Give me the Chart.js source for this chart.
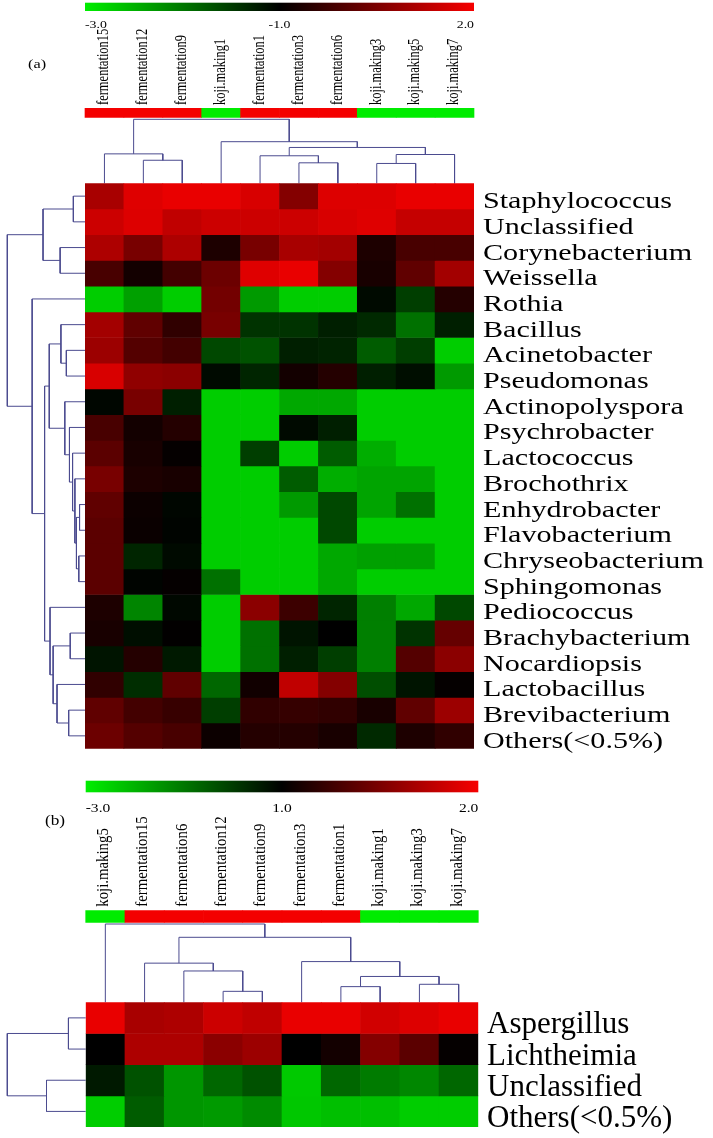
<!DOCTYPE html>
<html>
<head>
<meta charset="utf-8">
<script src="https://cdn.jsdelivr.net/npm/chart.js@4.4.1/dist/chart.umd.min.js"></script>
<style>
  html, body { margin: 0; padding: 0; background: #fff; }
  #page { position: relative; width: 713px; height: 1138px; }
  canvas { position: absolute; left: 0; }
</style>
</head>
<body>
<div id="page">
  <canvas id="chart-a" width="713" height="760" style="top:0;width:713px;height:760px"></canvas>
  <canvas id="chart-b" width="713" height="378" style="top:760px;width:713px;height:378px"></canvas>
</div>
<script>
// ---- panel (a) : bacteria ----
const colLabelsA = ['fermentation15', 'fermentation12', 'fermentation9', 'koji.making1', 'fermentation1',
    'fermentation3', 'fermentation6', 'koji.making3', 'koji.making5', 'koji.making7'];
const colGroupsA = ['fermentation', 'fermentation', 'fermentation', 'koji', 'fermentation',
    'fermentation', 'fermentation', 'koji', 'koji', 'koji'];
const rowLabelsA = ['Staphylococcus', 'Unclassified', 'Corynebacterium', 'Weissella', 'Rothia', 'Bacillus',
    'Acinetobacter', 'Pseudomonas', 'Actinopolyspora', 'Psychrobacter', 'Lactococcus', 'Brochothrix',
    'Enhydrobacter', 'Flavobacterium', 'Chryseobacterium', 'Sphingomonas', 'Pediococcus',
    'Brachybacterium', 'Nocardiopsis', 'Lactobacillus', 'Brevibacterium', 'Others(<0.5%)'];
const valuesA = [
    [1.1, 1.79, 1.91, 1.91, 1.7, 0.65, 1.76, 1.76, 1.91, 1.91],
    [1.55, 1.76, 1.4, 1.55, 1.55, 1.55, 1.7, 1.79, 1.46, 1.46],
    [1.16, 0.5, 1.16, -0.64, 0.5, 1.1, 1.04, -0.64, -0.1, -0.1],
    [-0.1, -0.76, -0.16, 0.35, 1.79, 1.91, 0.65, -0.7, 0.2, 1.04],
    [-3, -2.56, -3, 0.44, -2.5, -3, -3, -1.1, -1.6, -0.55],
    [1.04, 0.2, -0.4, 0.5, -1.5, -1.5, -1.3, -1.4, -2.1, -1.3],
    [0.95, 0.05, -0.16, -1.7, -1.8, -1.3, -1.34, -1.9, -1.6, -3],
    [1.7, 0.8, 0.74, -1.1, -1.36, -0.76, -0.55, -1.3, -1.14, -2.5],
    [-1.06, 0.5, -1.3, -3, -3, -2.64, -2.64, -3, -3, -3],
    [-0.1, -0.76, -0.55, -3, -3, -1.1, -1.3, -3, -3, -3],
    [0.14, -0.7, -0.94, -3, -1.6, -3, -1.9, -2.7, -3, -3],
    [0.5, -0.64, -0.7, -3, -3, -1.9, -2.7, -2.6, -2.6, -3],
    [0.2, -0.85, -1.06, -3, -3, -2.5, -1.7, -2.6, -2.1, -3],
    [0.14, -0.88, -1.04, -3, -3, -3, -1.7, -3, -3, -3],
    [0.14, -1.36, -1.1, -3, -3, -3, -2.64, -2.56, -2.56, -3],
    [0.14, -1.04, -0.94, -2.1, -3, -3, -2.64, -3, -3, -3],
    [-0.64, -2.3, -1.08, -3, 0.74, -0.25, -1.36, -2.24, -2.64, -1.7],
    [-0.7, -1.14, -0.97, -3, -2.1, -1.2, -1, -2.24, -1.5, 0.26],
    [-1.2, -0.55, -1.24, -3, -2.1, -1.3, -1.6, -2.24, 0.05, 0.74],
    [-0.4, -1.44, 0.2, -2, -0.79, 1.4, 0.65, -1.76, -1.2, -0.94],
    [0.2, -0.16, -0.31, -1.6, -0.4, -0.34, -0.4, -0.7, 0.2, 0.95],
    [0.35, 0.05, -0.1, -0.85, -0.55, -0.55, -0.7, -1.4, -0.64, -0.4]
];
const colorTicksA = ['-3.0', '-1.0', '2.0'];
const colorRangeA = [-3, -1, 2];
// linkage: [child a, child b, height]; leaves are 0..n-1, merges get n, n+1, ...
const colTreeA = [
    [1, 2, 0.36], [0, 10, 0.46], [5, 6, 0.32], [4, 12, 0.43], [7, 8, 0.31],
    [14, 9, 0.45], [13, 15, 0.56], [3, 16, 0.65], [11, 17, 1.0]
];
const rowTreeA = [
    [0, 1, 0.15], [2, 3, 0.32], [22, 23, 0.54], [6, 7, 0.24], [5, 25, 0.31],
    [12, 13, 0.07], [14, 15, 0.08], [27, 28, 0.11], [11, 29, 0.13], [10, 30, 0.16],
    [9, 31, 0.2], [8, 32, 0.26], [26, 33, 0.46], [17, 18, 0.19], [20, 21, 0.21],
    [19, 36, 0.36], [35, 37, 0.41], [16, 38, 0.45], [34, 39, 0.52], [4, 40, 0.68],
    [24, 41, 1.0]
];

// ---- panel (b) : fungi ----
const colLabelsB = ['koji.making5', 'fermentation15', 'fermentation6', 'fermentation12', 'fermentation9',
    'fermentation3', 'fermentation1', 'koji.making1', 'koji.making3', 'koji.making7'];
const colGroupsB = ['koji', 'fermentation', 'fermentation', 'fermentation', 'fermentation',
    'fermentation', 'fermentation', 'koji', 'koji', 'koji'];
const rowLabelsB = ['Aspergillus', 'Lichtheimia', 'Unclassified', 'Others(<0.5%)'];
const valuesB = [
    [1.97, 1.7, 1.72, 1.85, 1.8, 1.97, 1.97, 1.87, 1.92, 1.97],
    [1.0, 1.72, 1.72, 1.58, 1.65, 1.0, 1.08, 1.55, 1.38, 1.02],
    [0.52, -0.6, -1.92, -1.0, -0.6, -2.92, -1.0, -1.4, -1.64, -1.0],
    [-3, -0.8, -1.92, -2, -1.72, -2.88, -2.72, -2.72, -3, -3]
];
const colorTicksB = ['-3.0', '1.0', '2.0'];
const colorRangeB = [-3, 1, 2];
const colTreeB = [
    [3, 4, 0.14], [2, 10, 0.4], [1, 11, 0.5], [6, 7, 0.2], [8, 9, 0.23],
    [13, 14, 0.33], [5, 15, 0.52], [12, 16, 0.83], [0, 17, 1.0]
];
const rowTreeB = [[0, 1, 0.22], [2, 3, 0.5], [4, 5, 1.0]];

// ---- styles and layout ----
const FONT = "'Liberation Serif', 'Times New Roman', serif";
const RED_MAX = 240;
const GREEN_MAX = 205;
const TREE_COLOR = '#4b4b8f';
const GROUP_COLORS = { fermentation: '#f40000', koji: '#00ec00' };

const layoutA = {
    heatLeft: 85, heatRight: 474, heatTop: 183.3, heatBottom: 748.7,
    barTop: 2.7, barBottom: 11, barLabelY: 27.5, barFont: 11, barStretch: 1.255,
    letter: '(a)', letterX: 28, letterY: 65, letterFont: 13,
    colLabelBottom: 105, colFont: 12.5, colStretch: 1.255, colShift: 3.8,
    groupTop: 108.3, groupBottom: 117.3,
    topTreePx: 64, leftTreePx: 77.7,
    rowLabelX: 483, rowFont: 24, rowStretch: 1.255, rowShift: 12
};
const layoutB = {
    heatLeft: 85.7, heatRight: 478.3, heatTop: 242.3, heatBottom: 367,
    barTop: 20.7, barBottom: 32.3, barLabelY: 52, barFont: 13.5, barStretch: 1.15,
    letter: '(b)', letterX: 45, letterY: 61, letterFont: 15,
    colLabelBottom: 146.7, colFont: 14.8, colStretch: 1.1, colShift: 2.9,
    groupTop: 150.7, groupBottom: 162.3,
    topTreePx: 78.3, leftTreePx: 78.4,
    rowLabelX: 487, rowFont: 31, rowStretch: 1, rowShift: 15.5
};

/**
 * Couleur d'une cellule : vert -> noir -> rouge selon l'échelle [min, milieu, max]
 */
function cellColor(v, range) {
    const [lo, mid, hi] = range;
    if (v >= mid) {
        const t = Math.min(1, (v - mid) / (hi - mid));
        return `rgb(${Math.round(RED_MAX * t)},0,0)`;
    }
    const t = Math.min(1, (mid - v) / (mid - lo));
    return `rgb(0,${Math.round(GREEN_MAX * t)},0)`;
}

/**
 * Convertit une liste de fusions en segments de dendrogramme (p = position, h = hauteur)
 */
function treeSegments(merges, n, horizontal) {
    const pos = [];
    const hgt = [];
    for (let i = 0; i < n; i++) {
        pos.push(i + 0.5);
        hgt.push(0);
    }
    const pts = [];
    const add = (p, h) => pts.push(horizontal ? { x: p, y: h } : { x: h, y: p });
    merges.forEach(([a, b, h]) => {
        add(pos[a], hgt[a]);
        add(pos[a], h);
        add(pos[b], h);
        add(pos[b], hgt[b]);
        pts.push({ x: null, y: null });
        pos.push((pos[a] + pos[b]) / 2);
        hgt.push(h);
    });
    return pts;
}

function drawText(ctx, text, x, y, size, stretch, align, baseline) {
    ctx.save();
    ctx.translate(x, y);
    ctx.scale(stretch, 1);
    ctx.font = `${size}px ${FONT}`;
    ctx.fillStyle = '#000';
    ctx.textAlign = align;
    ctx.textBaseline = baseline || 'alphabetic';
    ctx.fillText(text, 0, 0);
    ctx.restore();
}

/**
 * Plugin : barre de couleur, lettres, étiquettes des colonnes et des lignes
 */
function labelsPlugin(P, L) {
    return {
        id: 'heatLabels',
        afterDraw(chart) {
            const ctx = chart.ctx;
            const xs = chart.scales.x;
            const ys = chart.scales.y;
            const left = xs.getPixelForValue(0);
            const right = xs.getPixelForValue(P.colLabels.length);

            // Barre de couleur
            const grad = ctx.createLinearGradient(left, 0, right, 0);
            grad.addColorStop(0, '#00ee00');
            grad.addColorStop(0.5, '#000000');
            grad.addColorStop(1, '#f60000');
            ctx.save();
            ctx.fillStyle = grad;
            ctx.fillRect(left, L.barTop, right - left, L.barBottom - L.barTop);
            ctx.restore();
            drawText(ctx, P.colorTicks[0], left, L.barLabelY, L.barFont, L.barStretch, 'left');
            drawText(ctx, P.colorTicks[1], (left + right) / 2, L.barLabelY, L.barFont, L.barStretch, 'center');
            drawText(ctx, P.colorTicks[2], right, L.barLabelY, L.barFont, L.barStretch, 'right');
            drawText(ctx, L.letter, L.letterX, L.letterY, L.letterFont, L.barStretch, 'left', 'middle');

            // Étiquettes verticales des colonnes
            P.colLabels.forEach((label, j) => {
                const cx = xs.getPixelForValue(j + 0.5) + L.colShift;
                ctx.save();
                ctx.translate(cx, L.colLabelBottom);
                ctx.scale(L.colStretch, 1);
                ctx.rotate(-Math.PI / 2);
                ctx.font = `${L.colFont}px ${FONT}`;
                ctx.fillStyle = '#000';
                ctx.textAlign = 'left';
                ctx.textBaseline = 'alphabetic';
                ctx.fillText(label, 0, 0);
                ctx.restore();
            });

            // Étiquettes des lignes
            P.rowLabels.forEach((label, i) => {
                const cy = ys.getPixelForValue(i + 0.5) + L.rowShift;
                drawText(ctx, label, L.rowLabelX, cy, L.rowFont, L.rowStretch, 'left');
            });
        }
    };
}

function buildPanel(canvasId, P, L) {
    const canvas = document.getElementById(canvasId);
    const nCols = P.colLabels.length;
    const nRows = P.rowLabels.length;
    const heatW = L.heatRight - L.heatLeft;
    const heatH = L.heatBottom - L.heatTop;

    const datasets = [];

    // Cellules : une série de barres flottantes par ligne
    P.values.forEach((row, r) => {
        datasets.push({
            type: 'bar',
            data: row.map((v, j) => ({ x: j + 0.5, y: [r, r + 1] })),
            backgroundColor: row.map(v => cellColor(v, P.colorRange)),
            borderWidth: 0,
            grouped: false,
            barPercentage: 1,
            categoryPercentage: 1,
            xAxisID: 'x',
            yAxisID: 'y'
        });
    });

    // Bande des groupes au-dessus du dendrogramme
    datasets.push({
        type: 'bar',
        data: P.colGroups.map((g, j) => ({ x: j + 0.5, y: [L.heatTop - L.groupBottom, L.heatTop - L.groupTop] })),
        backgroundColor: P.colGroups.map(g => GROUP_COLORS[g]),
        borderWidth: 0,
        grouped: false,
        barPercentage: 1,
        categoryPercentage: 1,
        clip: false,
        xAxisID: 'x',
        yAxisID: 'yHead'
    });

    const lineStyle = {
        type: 'line',
        borderColor: TREE_COLOR,
        borderWidth: 1,
        pointRadius: 0,
        tension: 0,
        spanGaps: false,
        fill: false,
        clip: false
    };
    datasets.push(Object.assign({}, lineStyle, {
        data: treeSegments(P.colTree, nCols, true),
        xAxisID: 'x',
        yAxisID: 'yTree'
    }));
    datasets.push(Object.assign({}, lineStyle, {
        data: treeSegments(P.rowTree, nRows, false),
        xAxisID: 'xTree',
        yAxisID: 'y'
    }));

    const hidden = { type: 'linear', display: false, offset: false };

    new Chart(canvas, {
        type: 'bar',
        data: { datasets: datasets },
        options: {
            responsive: false,
            animation: false,
            devicePixelRatio: 1,
            events: [],
            layout: {
                padding: {
                    left: L.heatLeft,
                    right: canvas.width - L.heatRight,
                    top: L.heatTop,
                    bottom: canvas.height - L.heatBottom
                }
            },
            plugins: {
                legend: { display: false },
                tooltip: { enabled: false }
            },
            scales: {
                x: Object.assign({}, hidden, { min: 0, max: nCols, ticks: { stepSize: 1 } }),
                y: Object.assign({}, hidden, { min: 0, max: nRows, reverse: true, ticks: { stepSize: 1 } }),
                yTree: Object.assign({}, hidden, { max: 0, min: -heatH / L.topTreePx }),
                xTree: Object.assign({}, hidden, { reverse: true, max: 0, min: -heatW / L.leftTreePx }),
                yHead: Object.assign({}, hidden, { max: 0, min: -heatH })
            }
        },
        plugins: [labelsPlugin(P, L)]
    });
}

document.addEventListener('DOMContentLoaded', function() {
    buildPanel('chart-a', {
        colLabels: colLabelsA, colGroups: colGroupsA, rowLabels: rowLabelsA, values: valuesA,
        colorTicks: colorTicksA, colorRange: colorRangeA, colTree: colTreeA, rowTree: rowTreeA
    }, layoutA);
    buildPanel('chart-b', {
        colLabels: colLabelsB, colGroups: colGroupsB, rowLabels: rowLabelsB, values: valuesB,
        colorTicks: colorTicksB, colorRange: colorRangeB, colTree: colTreeB, rowTree: rowTreeB
    }, layoutB);
});
</script>
</body>
</html>
